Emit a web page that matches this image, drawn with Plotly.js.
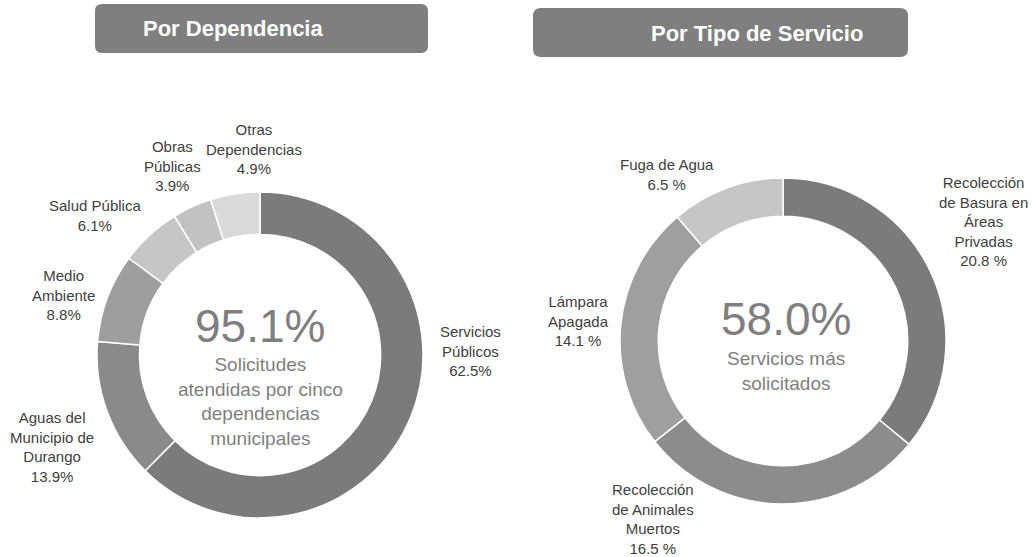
<!DOCTYPE html>
<html>
<head>
<meta charset="utf-8">
<script src="https://cdn.plot.ly/plotly-3.0.1.min.js"></script>
<style>
  html, body { margin: 0; padding: 0; background: #ffffff; }
  #chart { width: 1032px; height: 557px; }
</style>
</head>
<body>
<div id="chart"></div>
<script>
  'use strict';

  var W = 1032, H = 557;
  var FONT = '"Liberation Sans", Arial, sans-serif';

  // Por Dependencia
  var depNames = ['Servicios<br>Públicos', 'Aguas del<br>Municipio de<br>Durango',
    'Medio<br>Ambiente', 'Salud Pública', 'Obras<br>Públicas',
    'Otras<br>Dependencias'];
  var depValues = [62.5, 13.9, 8.8, 6.1, 3.9, 4.9];
  var depColors = ['#7b7b7b', '#8a8a8a', '#9e9e9e', '#c6c6c6', '#c2c2c2', '#d9d9d9'];
  var depTotal = '95.1%';
  var depCaption = 'Solicitudes<br>atendidas por cinco<br>dependencias<br>municipales';

  // Por Tipo de Servicio
  var srvNames = ['Recolección<br>de Basura en<br>Áreas<br>Privadas',
    'Recolección<br>de Animales<br>Muertos', 'Lámpara<br>Apagada',
    'Fuga de Agua'];
  var srvValues = [20.8, 16.5, 14.1, 6.5];
  var srvColors = ['#7b7b7b', '#8c8c8c', '#9f9f9f', '#c6c6c6'];
  var srvTotal = '58.0%';
  var srvCaption = 'Servicios más<br>solicitados';

  var titles = ['Por Dependencia', 'Por Tipo de Servicio'];

  // label anchor points, pixels
  var depLabelPos = [[470, 351], [52, 447], [63, 295], [95, 215], [172, 166], [254, 149]];
  var srvLabelPos = [[983, 221], [653, 519], [578, 321], [667, 175]];

  function px(x) { return x / W; }
  function py(y) { return 1 - y / H; }

  function roundRect(x0, y0, x1, y1, r) {
    return 'M' + px(x0 + r) + ',' + py(y0) +
      ' L' + px(x1 - r) + ',' + py(y0) +
      ' Q' + px(x1) + ',' + py(y0) + ' ' + px(x1) + ',' + py(y0 + r) +
      ' L' + px(x1) + ',' + py(y1 - r) +
      ' Q' + px(x1) + ',' + py(y1) + ' ' + px(x1 - r) + ',' + py(y1) +
      ' L' + px(x0 + r) + ',' + py(y1) +
      ' Q' + px(x0) + ',' + py(y1) + ' ' + px(x0) + ',' + py(y1 - r) +
      ' L' + px(x0) + ',' + py(y0 + r) +
      ' Q' + px(x0) + ',' + py(y0) + ' ' + px(x0 + r) + ',' + py(y0) + ' Z';
  }

  function donut(values, colors, cx, cy, r, hole) {
    return {
      type: 'pie',
      values: values,
      marker: {colors: colors, line: {color: '#ffffff', width: 1.5}},
      hole: hole,
      sort: false,
      direction: 'clockwise',
      rotation: 0,
      textinfo: 'none',
      hoverinfo: 'none',
      showlegend: false,
      domain: {x: [px(cx - r), px(cx + r)], y: [py(cy + r), py(cy - r)]}
    };
  }

  function labelNotes(names, values, pos, suffix) {
    return names.map(function (name, i) {
      return {
        text: name + '<br>' + values[i].toFixed(1) + suffix,
        x: px(pos[i][0]), y: py(pos[i][1]),
        xref: 'paper', yref: 'paper',
        xanchor: 'center', yanchor: 'middle',
        showarrow: false, align: 'center',
        font: {family: FONT, size: 15, color: '#404040'}
      };
    });
  }

  function centerNotes(total, caption, cx, cyBig, cyCap) {
    return [{
      text: total, x: px(cx), y: py(cyBig), xref: 'paper', yref: 'paper',
      xanchor: 'center', yanchor: 'middle', showarrow: false,
      font: {family: FONT, size: 46, color: '#7f7f7f'}
    }, {
      text: caption, x: px(cx), y: py(cyCap), xref: 'paper', yref: 'paper',
      xanchor: 'center', yanchor: 'middle', showarrow: false, align: 'center',
      font: {family: FONT, size: 19, color: '#7f7f7f'}
    }];
  }

  var data = [
    donut(depValues, depColors, 260, 355, 163, 0.74),
    donut(srvValues, srvColors, 783, 341, 163, 0.765)
  ];

  var annotations = []
    .concat(labelNotes(depNames, depValues, depLabelPos, '%'))
    .concat(labelNotes(srvNames, srvValues, srvLabelPos, ' %'))
    .concat(centerNotes(depTotal, depCaption, 260, 326, 401))
    .concat(centerNotes(srvTotal, srvCaption, 786, 319, 371))
    .concat([
      {text: '<b>' + titles[0] + '</b>', x: px(233), y: py(29)},
      {text: '<b>' + titles[1] + '</b>', x: px(757), y: py(33)}
    ].map(function (a) {
      a.xref = 'paper'; a.yref = 'paper';
      a.xanchor = 'center'; a.yanchor = 'middle'; a.showarrow = false;
      a.font = {family: FONT, size: 22, color: '#ffffff'};
      return a;
    }));

  var layout = {
    width: W,
    height: H,
    margin: {l: 0, r: 0, t: 0, b: 0},
    paper_bgcolor: '#ffffff',
    plot_bgcolor: '#ffffff',
    shapes: [
      {type: 'path', xref: 'paper', yref: 'paper', path: roundRect(95, 4, 428, 53, 7),
        fillcolor: '#7f7f7f', line: {width: 0}, layer: 'below'},
      {type: 'path', xref: 'paper', yref: 'paper', path: roundRect(533, 8, 908, 57, 8),
        fillcolor: '#7f7f7f', line: {width: 0}, layer: 'below'}
    ],
    annotations: annotations
  };

  Plotly.newPlot('chart', data, layout, {staticPlot: true, displayModeBar: false});
</script>
</body>
</html>
